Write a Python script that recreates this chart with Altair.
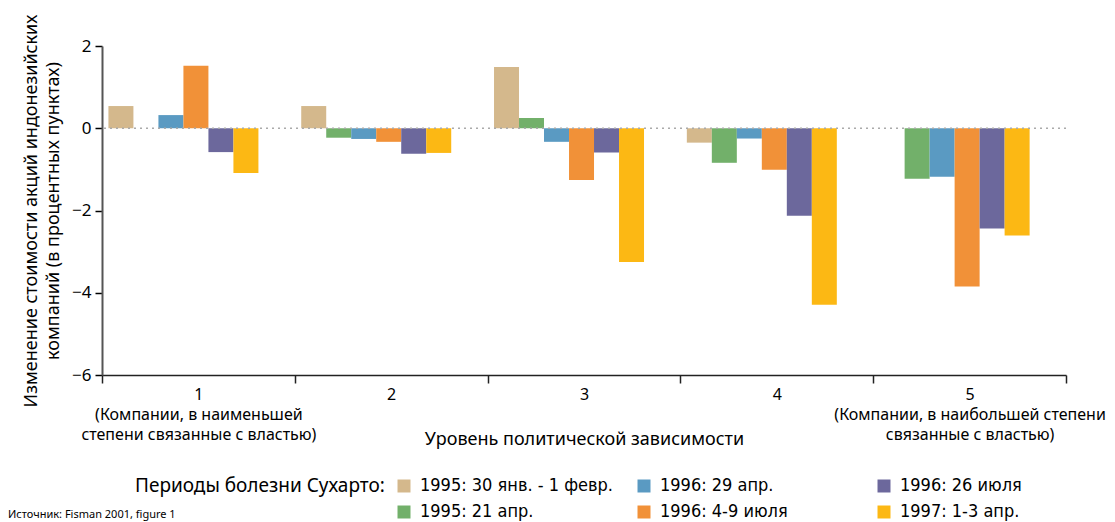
import altair as alt
import pandas as pd

groups = [1, 2, 3, 4, 5]
series = [
    "1995: 30 янв. - 1 февр.",
    "1995: 21 апр.",
    "1996: 29 апр.",
    "1996: 4-9 июля",
    "1996: 26 июля",
    "1997: 1-3 апр.",
]
colors = ["#D4B88C", "#72B06A", "#5A9AC2", "#F19138", "#6C689C", "#FCB814"]

v_1995_jan = [0.54, 0.54, 1.49, -0.35, None]
v_1995_apr = [None, -0.23, 0.25, -0.84, -1.23]
v_1996_apr = [0.32, -0.26, -0.33, -0.25, -1.18]
v_1996_jul49 = [1.52, -0.33, -1.26, -1.01, -3.85]
v_1996_jul26 = [-0.58, -0.62, -0.59, -2.13, -2.44]
v_1997_apr = [-1.09, -0.60, -3.25, -4.29, -2.61]
values = [v_1995_jan, v_1995_apr, v_1996_apr, v_1996_jul49, v_1996_jul26, v_1997_apr]

legend_order = [series[0], series[2], series[4], series[1], series[3], series[5]]
legend_colors = [colors[0], colors[2], colors[4], colors[1], colors[3], colors[5]]

rows = []
for s, vals in zip(series, values):
    for g, v in zip(groups, vals):
        if v is not None:
            rows.append({"group": g, "series": s, "value": v})
df = pd.DataFrame(rows)

FONT = "Noto Sans"
LEGFONT = "Liberation Sans Narrow, DejaVu Sans Condensed, Noto Sans"

label_expr = (
    "datum.value == 1 ? ['1', '(Компании, в наименьшей', 'степени связанные с властью)'] : "
    "datum.value == 5 ? ['5', '(Компании, в наибольшей степени', 'связанные с властью)'] : datum.label"
)

bars = alt.Chart(df).mark_bar().encode(
    x=alt.X(
        "group:O",
        scale=alt.Scale(paddingInner=0, paddingOuter=0),
        axis=alt.Axis(
            title="Уровень политической зависимости",
            titleFont=FONT, titleFontSize=18, titleFontWeight="normal", titleColor="#000",
            titleY=64, titleBaseline="middle",
            labelFont=FONT, labelFontSize=16, labelColor="#000", labelAngle=0,
            labelExpr=label_expr, labelLineHeight=20, labelPadding=3, labelLimit=400,
            labelOverlap=False,
            tickBand="extent", tickSize=8, tickColor="#222", tickWidth=1.5,
            domainColor="#222", domainWidth=1.5,
        ),
    ),
    xOffset=alt.XOffset(
        "series:N",
        sort=series,
        scale=alt.Scale(domain=series, paddingInner=0, paddingOuter=0.856, align=0.15),
    ),
    y=alt.Y(
        "value:Q",
        scale=alt.Scale(domain=[-6, 2], nice=False, zero=False),
        axis=alt.Axis(
            title=["Изменение стоимости акций индонезийских", "компаний (в процентных пунктах)"],
            titleFont=FONT, titleFontSize=18, titleFontWeight="normal", titleColor="#000",
            titleLineHeight=22, titleX=-71, titleBaseline="middle",
            values=[2, 0, -2, -4, -6],
            labelExpr="replace(datum.label, '-', '\u2212')",
            labelFont=FONT, labelFontSize=17, labelColor="#000", labelPadding=4,
            tickSize=7, tickColor="#000", tickWidth=1.5,
            domainColor="#555", domainWidth=2, grid=False,
        ),
    ),
    color=alt.Color(
        "series:N",
        scale=alt.Scale(domain=legend_order, range=legend_colors),
        legend=alt.Legend(
            title="Периоды болезни Сухарто:",
            titleOrient="left", titleFont=FONT, titleFontSize=19, titleFontWeight="normal",
            titleColor="#000", titlePadding=10, titleBaseline="top", titleAnchor="start",
            titleLimit=400,
            orient="none", legendX=33, legendY=431, direction="horizontal", columns=3,
            gridAlign="all", columnPadding=22, rowPadding=8,
            symbolType="square", symbolSize=169, symbolStrokeWidth=0, symbolOpacity=1,
            labelFont=LEGFONT, labelFontSize=18, labelColor="#000", labelOffset=7, labelLimit=400,
        ),
    ),
)

zero = alt.Chart(pd.DataFrame({"y": [0]})).mark_rule(
    color="#aaa", strokeDash=[2, 4], strokeWidth=1.5
).encode(y="y:Q")

source = alt.Chart(pd.DataFrame({"t": ["Источник: Fisman 2001, figure 1"]})).mark_text(
    align="left", baseline="alphabetic", font=FONT, fontSize=11, color="#000"
).encode(text="t:N", x=alt.value(-94), y=alt.value(472))

chart = alt.layer(bars, zero, source).properties(
    width=964, height=329,
    autosize=alt.AutoSizeParams(type="none"),
    padding={"left": 94, "top": 38, "right": 41, "bottom": 150},
).configure_view(stroke=None)

chart.save("out.html", embed_options={"renderer": "svg", "actions": False})
